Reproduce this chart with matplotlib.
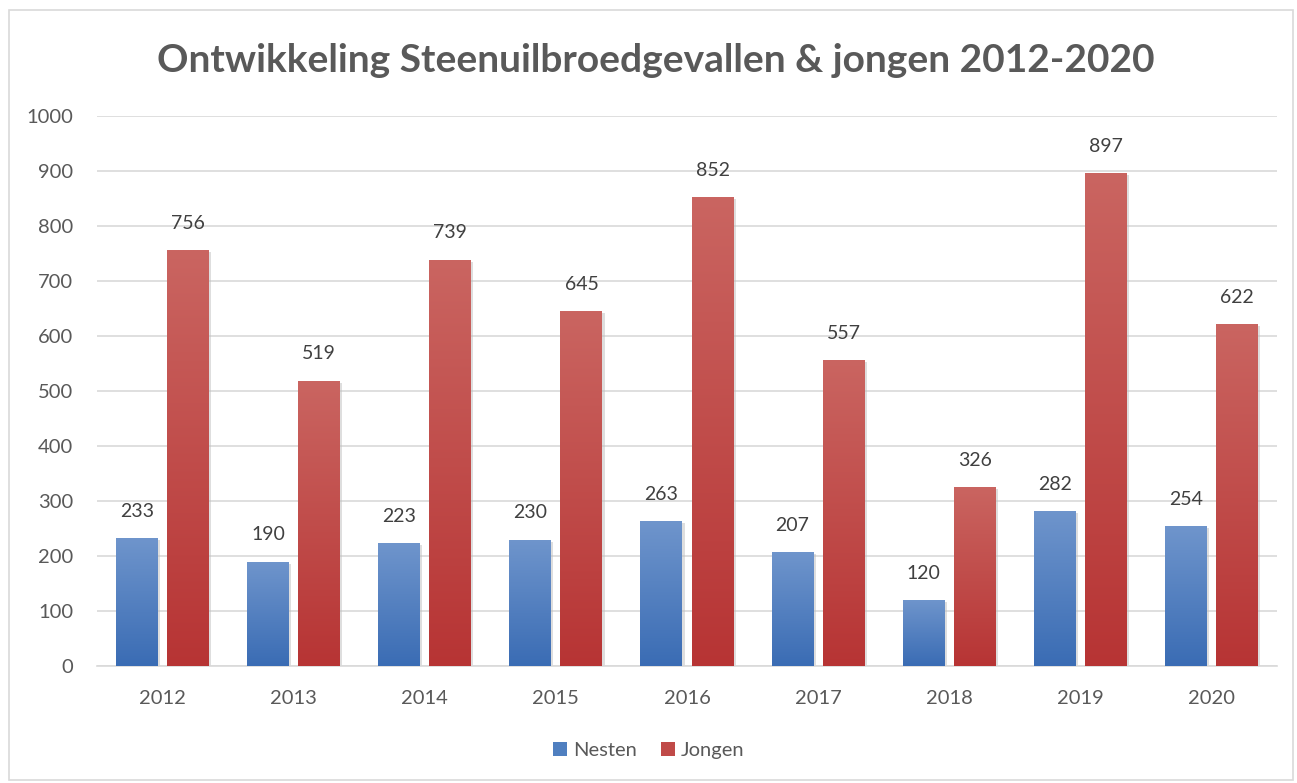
import matplotlib.pyplot as plt
import matplotlib.patheffects as pe
import numpy as np
from matplotlib.patches import Patch, Rectangle

jaren = ["2012", "2013", "2014", "2015", "2016", "2017", "2018", "2019", "2020"]
nesten = [233, 190, 223, 230, 263, 207, 120, 282, 254]
jongen = [756, 519, 739, 645, 852, 557, 326, 897, 622]

plt.rcParams["font.family"] = ["Lato", "DejaVu Sans"]

fig = plt.figure(figsize=(12.97, 7.83), dpi=100)
ax = fig.add_axes([0.0748, 0.1494, 0.9098, 0.7025])

# lichte rand rond de hele grafiek
fig.patches.append(Rectangle((0.007, 0.004), 0.99, 0.983, transform=fig.transFigure,
                             fill=False, edgecolor="#d9d9d9", linewidth=1.2))

x = np.arange(len(jaren))
breedte = 0.32
verschuiving = 0.195


def verloop_balken(posities, waarden, boven, onder):
    balken = ax.bar(posities, waarden, width=breedte, color=onder, zorder=2,
                    path_effects=[pe.SimplePatchShadow(offset=(1.5, -1.5), shadow_rgbFace="#bfbfbf", alpha=0.5),
                                  pe.Normal()])
    kleuren = np.array([plt.matplotlib.colors.to_rgb(boven), plt.matplotlib.colors.to_rgb(onder)])
    grad = np.linspace(0, 1, 256)[:, None]
    img = kleuren[0] * (1 - grad[..., None]) + kleuren[1] * grad[..., None]
    for b in balken:
        x0, y0 = b.get_x(), b.get_y()
        w, h = b.get_width(), b.get_height()
        im = ax.imshow(img, extent=[x0, x0 + w, y0, y0 + h], aspect="auto", zorder=3,
                       origin="upper", interpolation="bilinear")
        im.set_clip_path(b)
    return balken


verloop_balken(x - verschuiving, nesten, "#6f95cc", "#3a6cb4")
verloop_balken(x + verschuiving, jongen, "#ca6561", "#b73434")

for xi, n, j in zip(x, nesten, jongen):
    ax.annotate(str(n), (xi - verschuiving, n), xytext=(0, 13), textcoords="offset points",
                ha="center", va="bottom", fontsize=14, color="#404040")
    ax.annotate(str(j), (xi + verschuiving, j), xytext=(0, 13), textcoords="offset points",
                ha="center", va="bottom", fontsize=14, color="#404040")

ax.set_xlim(-0.5, len(jaren) - 0.5)
ax.set_ylim(0, 1000)
ax.set_yticks(range(0, 1001, 100))
ax.set_xticks(x)
ax.set_xticklabels(jaren)
ax.grid(axis="y", color="#d9d9d9", linewidth=1.2, zorder=0)
ax.set_axisbelow(True)
for kant in ["top", "right", "left"]:
    ax.spines[kant].set_visible(False)
ax.spines["bottom"].set_color("#d9d9d9")
ax.spines["bottom"].set_linewidth(1.2)
ax.tick_params(axis="both", length=0, labelsize=14.5, labelcolor="#595959")
ax.tick_params(axis="y", pad=17)
ax.tick_params(axis="x", pad=17)

fig.text(0.506, 0.923, "Ontwikkeling Steenuilbroedgevallen & jongen 2012-2020",
         ha="center", va="center", fontsize=28, fontweight="bold", color="#595959")

handles = [Patch(facecolor="#4f7fc0", label="Nesten"), Patch(facecolor="#c04a48", label="Jongen")]
fig.legend(handles=handles, loc="center", bbox_to_anchor=(0.5, 0.042), ncol=2, frameon=False,
           fontsize=14.5, handlelength=0.7, handleheight=0.7, handletextpad=0.3, columnspacing=1.2,
           labelcolor="#595959")

fig.savefig("out.png", dpi=100)
